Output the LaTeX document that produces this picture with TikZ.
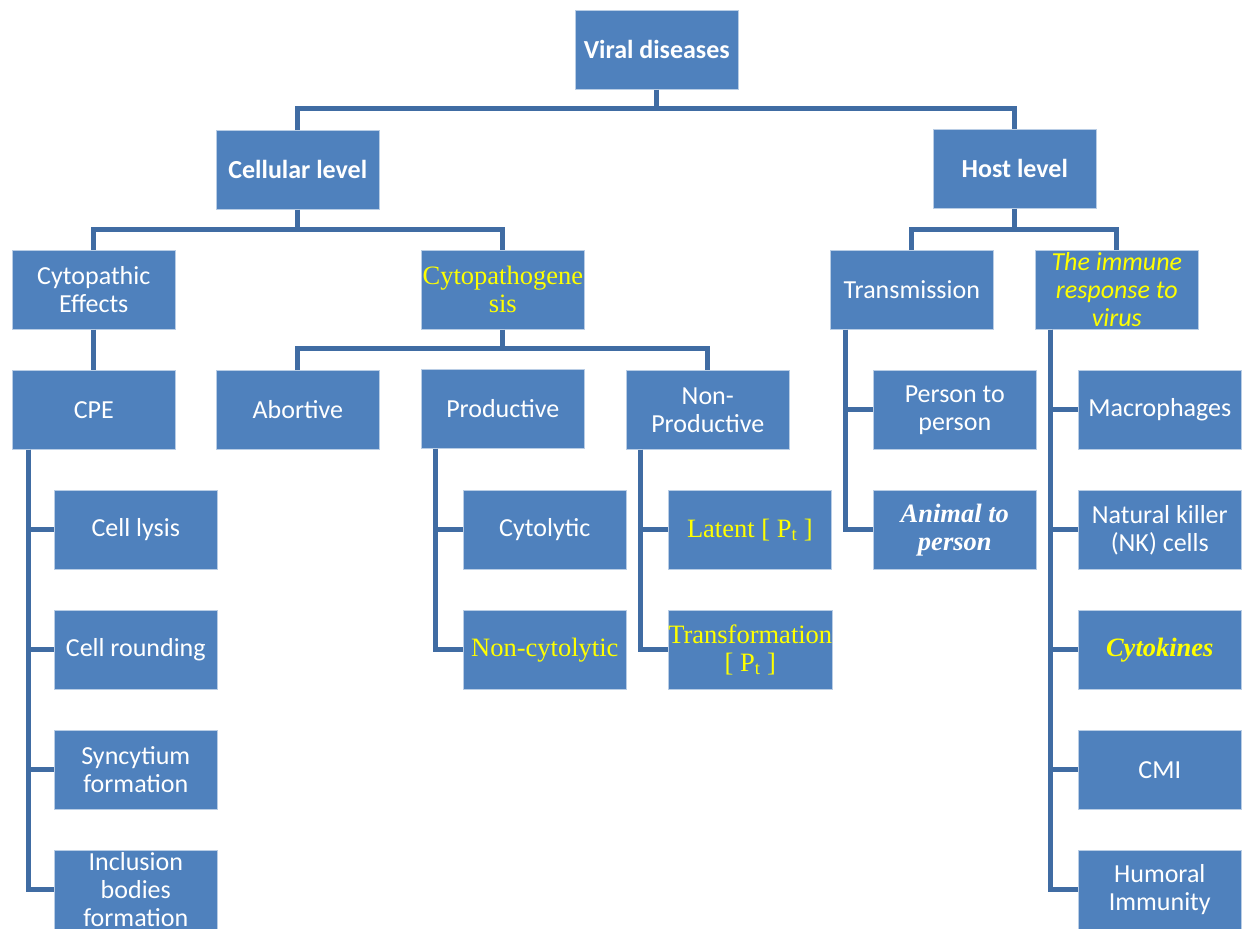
\documentclass[tikz,border=0pt]{standalone}
\usepackage{fontspec}
\setmainfont{Carlito}
\newfontfamily\tnr{Liberation Serif}
\definecolor{boxblue}{RGB}{79,129,189}
\definecolor{boxedge}{RGB}{185,205,229}
\definecolor{linkblue}{RGB}{64,108,163}
\definecolor{ylw}{RGB}{255,255,0}
\tikzset{
  box/.style={rectangle, fill=boxblue, draw=boxedge, line width=0.6pt,
    minimum width=163pt, minimum height=79pt, inner sep=0pt, text=white,
    align=center, anchor=north west, font=\fontsize{26}{28}\selectfont},
  bigbox/.style={box, font=\fontsize{26}{28}\selectfont\bfseries},
  serif/.style={font=\fontsize{26.5}{28}\selectfont\tnr},
  serifbi/.style={font=\fontsize{26.5}{28}\selectfont\tnr\bfseries\itshape},
  conn/.style={draw=linkblue, line width=5pt}
}
\begin{document}
\begin{tikzpicture}[x=1pt,y=-1pt]
\clip (0,0) rectangle (1243,929);
\fill[white] (0,0) rectangle (1243,929);
% level 0-1
\node[bigbox] (viral) at (575,10) {Viral diseases};
\node[bigbox] (cell) at (216,130) {Cellular level};
\node[bigbox] (host) at (933,129) {Host level};
% level 2
\node[box] (cpeff) at (12,250) {Cytopathic\\Effects};
\node[box, serif, text=ylw] (cpg) at (421,250) {Cytopathogene\\sis};
\node[box] (trans) at (830,250) {Transmission};
\node[box, text=ylw, font=\fontsize{26}{28}\selectfont\itshape] (immune) at (1035,250) {The immune\\response to\\virus};
% level 3
\node[box] (cpe) at (12,370) {CPE};
\node[box] (abort) at (216,370) {Abortive};
\node[box] (prod) at (421,369) {Productive};
\node[box] (nonprod) at (626,370) {Non-\\Productive};
\node[box] (pers) at (873,370) {Person to\\person};
\node[box] (macro) at (1078,370) {Macrophages};
% level 4
\node[box] (lysis) at (54,490) {Cell lysis};
\node[box] (cytol) at (463,490) {Cytolytic};
\node[box, serif, text=ylw] (latent) at (668,490) {Latent [ P\textsubscript{t} ]};
\node[box, serifbi] (animal) at (873,490) {Animal to\\person};
\node[box] (nk) at (1078,490) {Natural killer\\(NK) cells};
% level 5
\node[box] (round) at (54,610) {Cell rounding};
\node[box, serif, text=ylw] (noncyt) at (463,610) {Non-cytolytic};
\node[box, serif, text=ylw] (transf) at (668,610) {Transformation\\{[} P\textsubscript{t} ]};
\node[box, serifbi, text=ylw] (cytok) at (1078,610) {Cytokines};
% level 6-7
\node[box] (syn) at (54,730) {Syncytium\\formation};
\node[box] (cmi) at (1078,730) {CMI};
\node[box] (incl) at (54,850) {Inclusion\\bodies\\formation};
\node[box] (humor) at (1078,850) {Humoral\\Immunity};
% connectors: top tree
\draw[conn] (viral.south) -- ++(0,19) coordinate (v1);
\draw[conn] (cell.north) |- (v1) -| (host.north);
\draw[conn] (cell.south) -- ++(0,20) coordinate (c1);
\draw[conn] (cpeff.north) |- (c1) -| (cpg.north);
\draw[conn] (host.south) -- ++(0,21) coordinate (h1);
\draw[conn] (trans.north) |- (h1) -| (immune.north);
\draw[conn] (cpeff.south) -- (cpe.north);
\draw[conn] (cpg.south) -- ++(0,19) coordinate (g1);
\draw[conn] (abort.north) |- (g1) -| (nonprod.north);
% side trunks
\foreach \t in {lysis,round,syn,incl}
  \draw[conn] ([xshift=16pt]cpe.south west) |- (\t.west);
\foreach \t in {cytol,noncyt}
  \draw[conn] ([xshift=14pt]prod.south west) |- (\t.west);
\foreach \t in {latent,transf}
  \draw[conn] ([xshift=14pt]nonprod.south west) |- (\t.west);
\foreach \t in {pers,animal}
  \draw[conn] ([xshift=15pt]trans.south west) |- (\t.west);
\foreach \t in {macro,nk,cytok,cmi,humor}
  \draw[conn] ([xshift=15pt]immune.south west) |- (\t.west);
\end{tikzpicture}
\end{document}
